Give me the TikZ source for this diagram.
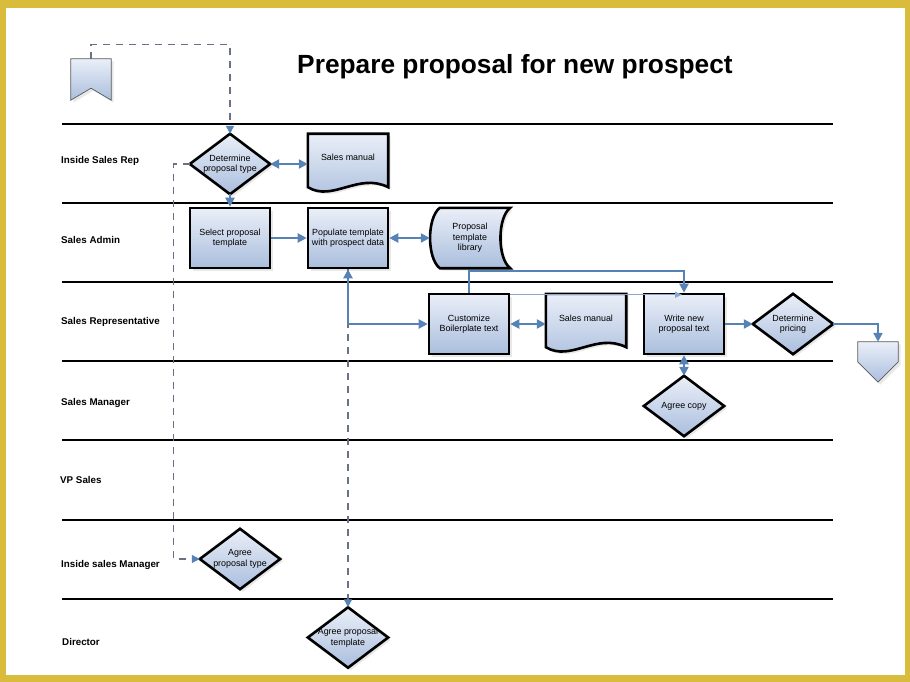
\documentclass[tikz,border=0pt]{standalone}
\usepackage{fontspec}
\setmainfont{Liberation Sans}
\usetikzlibrary{arrows.meta,calc,shadows}
\definecolor{frameY}{HTML}{D9BC3C}
\definecolor{conn}{HTML}{5682B6}
\definecolor{dashc}{HTML}{6A7184}
\definecolor{shTop}{HTML}{EAEFF8}
\definecolor{shBot}{HTML}{AABEDD}
\pgfdeclarelayer{framelayer}
\pgfdeclarelayer{shapelayer}
\pgfsetlayers{framelayer,shapelayer,main}
\begin{document}
\begin{tikzpicture}[x=1pt,y=-1pt,
 nf/.style={font=\fontsize{8.9}{10.5}\selectfont},
 box/.style={nf, minimum width=80pt, minimum height=60pt, inner sep=0pt, align=center},
 shad/.style={drop shadow={shadow xshift=2.5pt,shadow yshift=-2.5pt,opacity=0.18}},
 proc/.style={box, draw=black, line width=2.6pt, top color=shTop, bottom color=shBot, shad},
 shp/.style={draw=black, line width=2.6pt, line join=miter, top color=shTop, bottom color=shBot, shad},
 offp/.style={draw=gray!70!black, line width=0.7pt, top color=shTop, bottom color=shBot, shad},
 lane/.style={line width=2.6pt},
 lanelbl/.style={anchor=base west, inner sep=0pt, font=\fontsize{9.8}{12}\selectfont\bfseries},
 arr/.style={conn, line width=2.2pt, -{Triangle[length=9pt,width=9pt]}},
 darr/.style={conn, line width=2.2pt, {Triangle[length=9pt,width=9pt]}-{Triangle[length=9pt,width=9pt]}},
 thinarr/.style={conn!70, line width=1.2pt, -{Triangle[length=7pt,width=6pt]}},
 dsh/.style={dashc, line width=1.1pt, dash pattern=on 7pt off 6pt, -{Triangle[length=8pt,width=8pt,color=conn]}}
]
\useasboundingbox (0,0) rectangle (910,682);
\begin{pgfonlayer}{framelayer}
\fill[frameY] (0,0) rectangle (910,682);
\fill[white] (6,8) rectangle (905,675);
\end{pgfonlayer}

% title
\node[anchor=base, inner sep=0pt, font=\fontsize{26.3}{30}\selectfont\bfseries] (title) at (515,74) {Prepare proposal for new prospect};

% lanes
\foreach \yy in {124,203,282,361,440,520,599} \draw[lane] (62,\yy) -- (833,\yy);
\node[lanelbl] (l1) at (61,163.5) {Inside Sales Rep};
\node[lanelbl] (l2) at (61,243.5) {Sales Admin};
\node[lanelbl] (l3) at (61,324.5) {Sales Representative};
\node[lanelbl] (l4) at (61,405.5) {Sales Manager};
\node[lanelbl] (l5) at (60,483.5) {VP Sales};
\node[lanelbl] (l6) at (61,567.5) {Inside sales Manager};
\node[lanelbl] (l7) at (62,645.5) {Director};

% nodes
\node[minimum width=40pt, minimum height=41pt, inner sep=0pt] (op1) at (91,79.5) {};
\node[box] (det) at (230,164) {Determine\\proposal type};
\node[box, minimum height=53pt] (sm1) at (348,160.5) {};
\node[nf] (sm1t) at (348,157) {Sales manual};
\node[proc] (sel) at (230,238) {Select proposal\\template};
\node[proc] (pop) at (348,238) {Populate template\\with prospect data};
\node[box] (lib) at (470,238) {Proposal\\template\\library};
\node[proc] (cust) at (469,324) {Customize\\Boilerplate text};
\node[box, minimum height=53pt] (sm2) at (586,320.5) {};
\node[nf] (sm2t) at (586,318) {Sales manual};
\node[proc] (wr) at (684,324) {Write new\\proposal text};
\node[box] (pr) at (793,324) {Determine\\pricing};
\node[minimum width=40pt, minimum height=40pt, inner sep=0pt] (op2) at (878,362) {};
\node[box] (ac) at (684,406) {Agree copy};
\node[box] (apt) at (240,559) {Agree\\proposal type};
\node[box] (atp) at (348,637.5) {Agree proposal\\template};

\begin{pgfonlayer}{shapelayer}
\foreach \n in {det,pr,ac,apt,atp}
  \path[shp] (\n.north) -- (\n.east) -- (\n.south) -- (\n.west) -- cycle;
\foreach \n in {sm1,sm2}
  \path[shp] (\n.north west) -- (\n.north east) -- (\n.south east) .. controls +(-30,-15) and +(25,15) .. (\n.south west) -- cycle;
\path[shp] ($(lib.north west)+(10,0)$) -- (lib.north east) .. controls +(-13,10) and +(-13,-10) .. (lib.south east) -- ($(lib.south west)+(10,0)$) .. controls +(-13,-10) and +(-13,10) .. ($(lib.north west)+(10,0)$) -- cycle;
\path[offp] (op1.north west) -- (op1.north east) -- (op1.south east) -- ($(op1.south)+(0,-12)$) -- (op1.south west) -- cycle;
\path[offp] (op2.north west) -- (op2.north east) -- (op2.east) -- (op2.south) -- (op2.west) -- cycle;
\end{pgfonlayer}

% connectors
\draw[dsh] (op1.north) -- ++(0,-14) -| (det.north);
\draw[dsh] (det.west) -- ++(-16,0) |- (apt.west);
\draw[dsh] (pop.south) -- (atp.north);
\draw[darr] (det.east) -- (sm1.west |- det.east);
\draw[arr] (det.south) -- (sel.north);
\draw[arr] (sel) -- (pop);
\draw[darr] (pop) -- (lib);
\draw[darr] (pop.south) |- (cust.west);
\draw[arr] (cust.north) -- ++(0,-22) -| (wr.north);
\draw[thinarr] ($(cust.north east)+(0,2)$) -- ($(wr.north)+(-2,2)$);
\draw[darr] (cust) -- (sm2.west |- cust.east);
\draw[arr] (wr) -- (pr.west);
\draw[arr] (pr.east) -| (op2.north);
\draw[darr] (wr.south) -- (ac.north);
\end{tikzpicture}
\end{document}
